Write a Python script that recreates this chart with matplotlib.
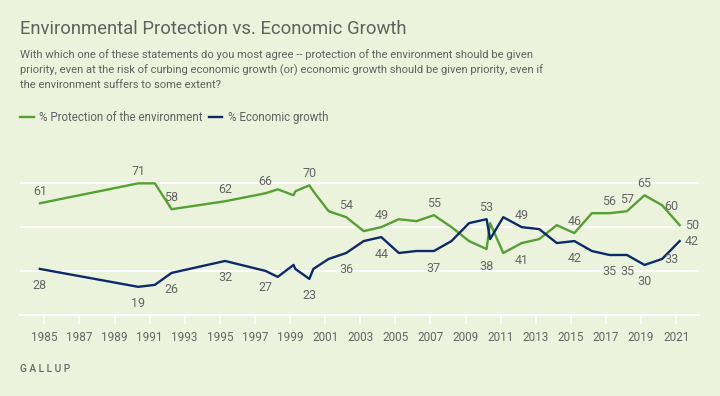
import matplotlib
matplotlib.use("Agg")
import matplotlib.pyplot as plt

# Poll dates (fractional years) and percentages
years = [1984.75, 1990.35, 1991.3, 1992.25, 1995.3, 1997.6, 1998.3, 1999.2, 1999.3,
         2000.1, 2000.33, 2001.2, 2002.2, 2003.2, 2004.2, 2005.2, 2006.2, 2007.2,
         2008.2, 2009.2, 2010.2, 2010.4, 2011.15, 2012.2, 2013.2, 2014.2, 2015.2,
         2016.2, 2017.2, 2018.2, 2019.2, 2020.2, 2021.2]
environment = [61, 71, 71, 58, 62, 66, 68, 65, 67, 70, 67, 57, 54, 47, 49, 53, 52, 55,
               49, 42, 38, 51, 36, 41, 43, 50, 46, 56, 56, 57, 65, 60, 50]
economy = [28, 19, 20, 26, 32, 27, 24, 30, 28, 23, 28, 33, 36, 42, 44, 36, 37, 37,
           42, 51, 53, 43, 54, 49, 48, 41, 42, 37, 35, 35, 30, 33, 42]
tick_years = list(range(1985, 2022, 2))

# which points carry a label: (index, where)
env_labels = [(0, "up"), (1, "up"), (3, "up"), (4, "up"), (5, "up"), (9, "up"),
              (12, "up"), (14, "up"), (17, "up"), (20, "down"), (23, "down"),
              (26, "up"), (28, "up"), (29, "up"), (30, "up"), (31, "right"), (32, "end")]
eco_labels = [(0, "down"), (1, "down"), (3, "down"), (4, "down"), (5, "down"), (9, "down"),
              (12, "down"), (14, "down"), (17, "down"), (20, "up"), (23, "up"),
              (26, "down"), (28, "down"), (29, "down"), (30, "down"), (31, "right"), (32, "end")]

BG = "#ebf3dc"
GREEN = "#55a032"
NAVY = "#0c2a6b"
GREY = "#666666"
TXT = "#5f6360"

plt.rcParams["font.family"] = ["Roboto", "DejaVu Sans"]

fig = plt.figure(figsize=(7.2, 3.96), dpi=100, facecolor=BG)
ax = fig.add_axes([20 / 720, 1 - 314.7 / 396, 679.3 / 720, (314.7 - 150) / 396])
ax.set_facecolor(BG)
ax.set_xlim(1983.615, 2022.32)
ax.set_ylim(5, 87.75)

for g in [27, 49, 71]:
    ax.axhline(g, color="white", lw=1.5, zorder=1)
for s in ["top", "right", "left"]:
    ax.spines[s].set_visible(False)
ax.spines["bottom"].set_color("white")
ax.spines["bottom"].set_linewidth(1.5)
ax.set_yticks([])
ax.set_xticks(tick_years)
ax.set_xticklabels([str(y) for y in tick_years])
ax.tick_params(axis="x", colors="white", length=6.5, width=1.3, pad=5,
               labelcolor=GREY, labelsize=8.5)

ax.plot(years, environment, color=GREEN, lw=1.7, zorder=3)
ax.plot(years, economy, color=NAVY, lw=1.7, zorder=3)

offsets = {"up": (0, 12, "center"), "down": (0, -17, "center"),
           "right": (9, -1, "center"), "end": (5, 0, "left")}
for series, labels in [(environment, env_labels), (economy, eco_labels)]:
    for i, where in labels:
        dx, dy, ha = offsets[where]
        ax.annotate(str(series[i]), (years[i], series[i]), xytext=(dx, dy),
                    textcoords="offset pixels", ha=ha, va="center",
                    fontsize=9, color=GREY, zorder=4)

fig.text(20 / 720, 1 - 34 / 396, "Environmental Protection vs. Economic Growth",
         fontsize=13.3, color=TXT, va="baseline")
sub = ["With which one of these statements do you most agree -- protection of the environment should be given",
       "priority, even at the risk of curbing economic growth (or) economic growth should be given priority, even if",
       "the environment suffers to some extent?"]
for k, line in enumerate(sub):
    fig.text(20 / 720, 1 - (58.3 + 14.8 * k) / 396, line, fontsize=8.15,
             color=TXT, va="baseline")

# legend
fig.add_artist(plt.Line2D([20 / 720, 34 / 720], [1 - 117 / 396] * 2, color=GREEN, lw=1.7))
fig.text(39.3 / 720, 1 - 120.7 / 396, "% Protection of the environment", fontsize=8.3,
         color=TXT, va="baseline")
fig.add_artist(plt.Line2D([208.7 / 720, 222 / 720], [1 - 117 / 396] * 2, color=NAVY, lw=1.7))
fig.text(227.7 / 720, 1 - 120.7 / 396, "% Economic growth", fontsize=8.3,
         color=TXT, va="baseline")

fig.text(20 / 720, 1 - 371.7 / 396, "G A L L U P", fontsize=7.3, color=GREY,
         va="baseline", fontweight="medium")

fig.savefig("out.png", dpi=100, facecolor=BG)
